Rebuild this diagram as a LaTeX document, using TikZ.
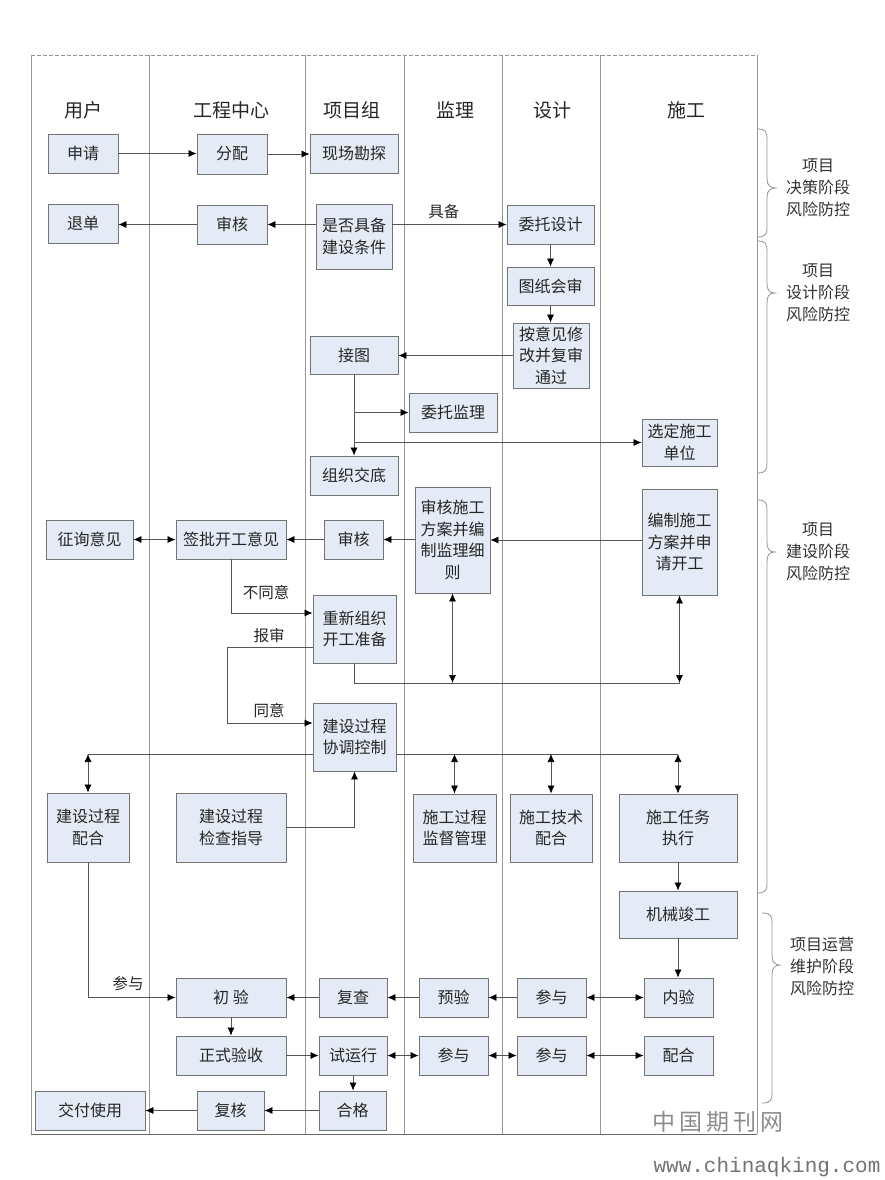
\documentclass[tikz,border=0pt]{standalone}
\usepackage{fontspec}
\setmainfont{Noto Sans CJK SC}
\newfontfamily\wmono{Liberation Mono}
\usetikzlibrary{arrows.meta}
\definecolor{boxfill}{RGB}{228,235,246}
\definecolor{lanegray}{RGB}{150,150,150}
\definecolor{linegray}{RGB}{85,85,85}
\newcommand\fsbox{\fontsize{16}{21.5}\selectfont}
\newcommand\bx[6]{\node[box,minimum width=#4pt,minimum height=#5pt] (#1) at (#2,#3) {#6};}
\newcommand\mybrace[6]{\draw[bracestyle] (#1,#4) .. controls ({#2-1},#4) and (#2,{#4+3}) .. (#2,{#4+10}) -- (#2,{#5-10}) .. controls (#2,{#5-3}) and ({#2+2},#5) .. (#3,#5) .. controls ({#2+2},#5) and (#2,{#5+3}) .. (#2,{#5+10}) -- (#2,{#6-10}) .. controls (#2,{#6-3}) and ({#2-1},#6) .. (#1,#6);}
\tikzset{
  box/.style={draw=black!55, fill=boxfill, line width=0.8pt, inner sep=0pt, align=center, font=\fsbox, text=black!85},
  head/.style={font=\fontsize{19}{22}\selectfont, text=black!85},
  lbl/.style={font=\fontsize{15.5}{20}\selectfont, text=black!85},
  phase/.style={font=\fontsize{16}{22}\selectfont, align=center, text=black!80},
  conn/.style={draw=linegray, line width=0.7pt},
  arr/.style={conn, -{Latex[length=8pt,width=7pt,color=black]}},
  darr/.style={conn, {Latex[length=8pt,width=7pt,color=black]}-{Latex[length=8pt,width=7pt,color=black]}},
  lane/.style={draw=lanegray, line width=0.9pt},
  bracestyle/.style={draw=lanegray, line width=0.8pt},
}
\begin{document}
\begin{tikzpicture}[x=1pt,y=-1pt]
\useasboundingbox (0,0) rectangle (884,1180);
\fill[white] (0,0) rectangle (884,1180);
% frame and lanes
\draw[lane, dashed, dash pattern=on 4pt off 2pt] (31,55) -- (757,55);
\foreach \x in {31,149,305,404,502,600,757} \draw[lane] (\x,55) -- (\x,1134);
\draw[lane, draw=black!60] (31,1134) -- (757,1134);
% headers
\node[head] (h1) at (83,110) {用户};
\node[head] (h2) at (231,110) {工程中心};
\node[head] (h3) at (352,110) {项目组};
\node[head] (h4) at (455,110) {监理};
\node[head] (h5) at (552,110) {设计};
\node[head] (h6) at (686,110) {施工};
% boxes
\bx{shenqing}{83}{153.5}{70}{39}{申请}
\bx{fenpei}{232}{154}{70}{40}{分配}
\bx{xianchang}{354}{153.5}{88}{39}{现场勘探}
\bx{tuidan}{83}{223.5}{70}{39}{退单}
\bx{shenheA}{232}{224.5}{70}{39}{审核}
\bx{shifou}{354}{236.5}{76}{65}{是否具备\\建设条件}
\bx{weituosheji}{550.5}{224.5}{87}{39}{委托设计}
\bx{tuzhi}{550.5}{286}{87}{38}{图纸会审}
\bx{anyijian}{551}{355.5}{76}{65}{按意见修\\改并复审\\通过}
\bx{jietu}{354}{355}{88}{38}{接图}
\bx{weituojianli}{453}{412.5}{88}{39}{委托监理}
\bx{zuzhi}{354}{475.5}{88}{39}{组织交底}
\bx{xuanding}{679.5}{442.5}{75}{47}{选定施工\\单位}
\bx{shenheshigong}{452.5}{540}{75}{106}{审核施工\\方案并编\\制监理细\\则}
\bx{bianzhi}{679.5}{542}{75}{106}{编制施工\\方案并申\\请开工}
\bx{zhengxun}{89.5}{539.5}{87}{39}{征询意见}
\bx{qianpi}{231}{539.5}{110}{39}{签批开工意见}
\bx{shenheB}{353.5}{539.5}{59}{39}{审核}
\bx{chongxin}{354.5}{629}{83}{68}{重新组织\\开工准备}
\bx{xietiao}{354.5}{737}{83}{68}{建设过程\\协调控制}
\bx{peiheA}{88}{827.5}{82}{69}{建设过程\\配合}
\bx{jiancha}{231}{827.5}{110}{69}{建设过程\\检查指导}
\bx{jiandu}{454.5}{828}{83}{68}{施工过程\\监督管理}
\bx{jishu}{551}{828}{82}{68}{施工技术\\配合}
\bx{renwu}{678}{828}{118}{68}{施工任务\\执行}
\bx{jixie}{678}{914.5}{118}{47}{机械竣工}
\bx{chuyan}{231}{997.5}{110}{39}{初 验}
\bx{fucha}{353}{997.5}{68}{39}{复查}
\bx{yuyan}{453.5}{997.5}{69}{39}{预验}
\bx{canyuA}{551.5}{997.5}{69}{39}{参与}
\bx{neiyan}{678.5}{997.5}{69}{39}{内验}
\bx{zhengshi}{231}{1055.5}{110}{39}{正式验收}
\bx{shiyunxing}{353}{1055.5}{68}{39}{试运行}
\bx{canyuB}{453.5}{1055.5}{69}{39}{参与}
\bx{canyuC}{551.5}{1055.5}{69}{39}{参与}
\bx{peiheB}{678.5}{1055.5}{69}{39}{配合}
\bx{jiaofu}{90}{1110.5}{110}{39}{交付使用}
\bx{fuhe}{230.5}{1110.5}{67}{39}{复核}
\bx{hege}{352.5}{1110.5}{67}{39}{合格}
% connectors
\draw[arr] (shenqing.east) -- (fenpei.west |- shenqing.east);
\draw[arr] (fenpei.east) -- (xianchang.west |- fenpei.east);
\draw[arr] (shifou.west |- shenheA.east) -- (shenheA.east);
\draw[arr] (shenheA.west) -- (tuidan.east |- shenheA.west);
\draw[arr] (shifou.east |- weituosheji.west) -- node[lbl, above=2pt, pos=0.45] (jubei) {具备} (weituosheji.west);
\draw[arr] (weituosheji.south) -- (tuzhi.north);
\draw[arr] (tuzhi.south) -- (anyijian.north -| tuzhi.south);
\draw[arr] (anyijian.west) -- (jietu.east |- anyijian.west);
\draw[arr] (jietu.south) -- (zuzhi.north);
\draw[arr] (jietu.south |- weituojianli.west) -- (weituojianli.west);
\draw[arr] (jietu.south |- xuanding.west) -- (xuanding.west);
\draw[arr] (bianzhi.west |- shenheshigong.east) -- (shenheshigong.east);
\draw[arr] (shenheshigong.west |- shenheB.east) -- (shenheB.east);
\draw[arr] (shenheB.west) -- (qianpi.east);
\draw[darr] (zhengxun.east) -- (qianpi.west);
\coordinate (bt) at (313,613);
\draw[arr] (qianpi.south) |- (chongxin.west |- bt);
\node[lbl] (butongyi) at (266,593) {不同意};
\coordinate (bsA) at (227,647);
\coordinate (bsB) at (227,723);
\draw[arr] (chongxin.west |- bsA) -- (bsA) -- (bsB) -- (xietiao.west |- bsB);
\node[lbl] (baoshen) at (269,636) {报审};
\node[lbl] (tongyi) at (269,711) {同意};
\coordinate (hl) at (0,683);
\draw[conn] (chongxin.south) |- (bianzhi.south |- hl);
\draw[darr] (shenheshigong.south) -- (shenheshigong.south |- hl);
\draw[darr] (bianzhi.south) -- (bianzhi.south |- hl);
\coordinate (hm) at (0,754);
\draw[conn] (xietiao.west |- hm) -- (peiheA.north |- hm);
\draw[conn] (xietiao.east |- hm) -- (renwu.north |- hm);
\draw[darr] (peiheA.north |- hm) -- (peiheA.north);
\draw[darr] (jiandu.north |- hm) -- (jiandu.north);
\draw[darr] (jishu.north |- hm) -- (jishu.north);
\draw[darr] (renwu.north |- hm) -- (renwu.north);
\draw[arr] (jiancha.east) -| (xietiao.south);
\draw[arr] (renwu.south) -- (jixie.north);
\draw[arr] (jixie.south) -- (jixie.south |- neiyan.north);
\draw[darr] (neiyan.west) -- (canyuA.east);
\draw[arr] (canyuA.west) -- (yuyan.east);
\draw[arr] (yuyan.west) -- (fucha.east);
\draw[arr] (fucha.west) -- (chuyan.east);
\draw[arr] (peiheA.south) |- (chuyan.west);
\node[lbl] (canyulbl) at (128,984) {参与};
\draw[arr] (chuyan.south) -- (zhengshi.north);
\draw[arr] (zhengshi.east) -- (shiyunxing.west);
\draw[darr] (shiyunxing.east) -- (canyuB.west);
\draw[darr] (canyuB.east) -- (canyuC.west);
\draw[darr] (canyuC.east) -- (peiheB.west);
\draw[arr] (shiyunxing.south) -- (hege.north -| shiyunxing.south);
\draw[arr] (hege.west) -- (fuhe.east);
\draw[arr] (fuhe.west) -- (jiaofu.east);
% braces
\mybrace{757}{767}{777}{129}{188}{237}
\mybrace{757}{767}{775}{241}{293}{473}
\mybrace{757}{767}{775}{500}{552}{893}
\mybrace{762}{772}{781}{913}{965}{1103}
\node[phase] (p1) at (818,188) {项目\\决策阶段\\风险防控};
\node[phase] (p2) at (818,293) {项目\\设计阶段\\风险防控};
\node[phase] (p3) at (818,552) {项目\\建设阶段\\风险防控};
\node[phase] (p4) at (822,966) {项目运营\\维护阶段\\风险防控};
% watermark
\node[font=\fontsize{23}{24}\selectfont, text=black!45] (wm1) at (718,1122) {中\,国\,期\,刊\,网};
\node[font=\wmono\fontsize{21}{22}\selectfont, text=black!55] (wm2) at (767,1167) {www.chinaqking.com};
\end{tikzpicture}
\end{document}
